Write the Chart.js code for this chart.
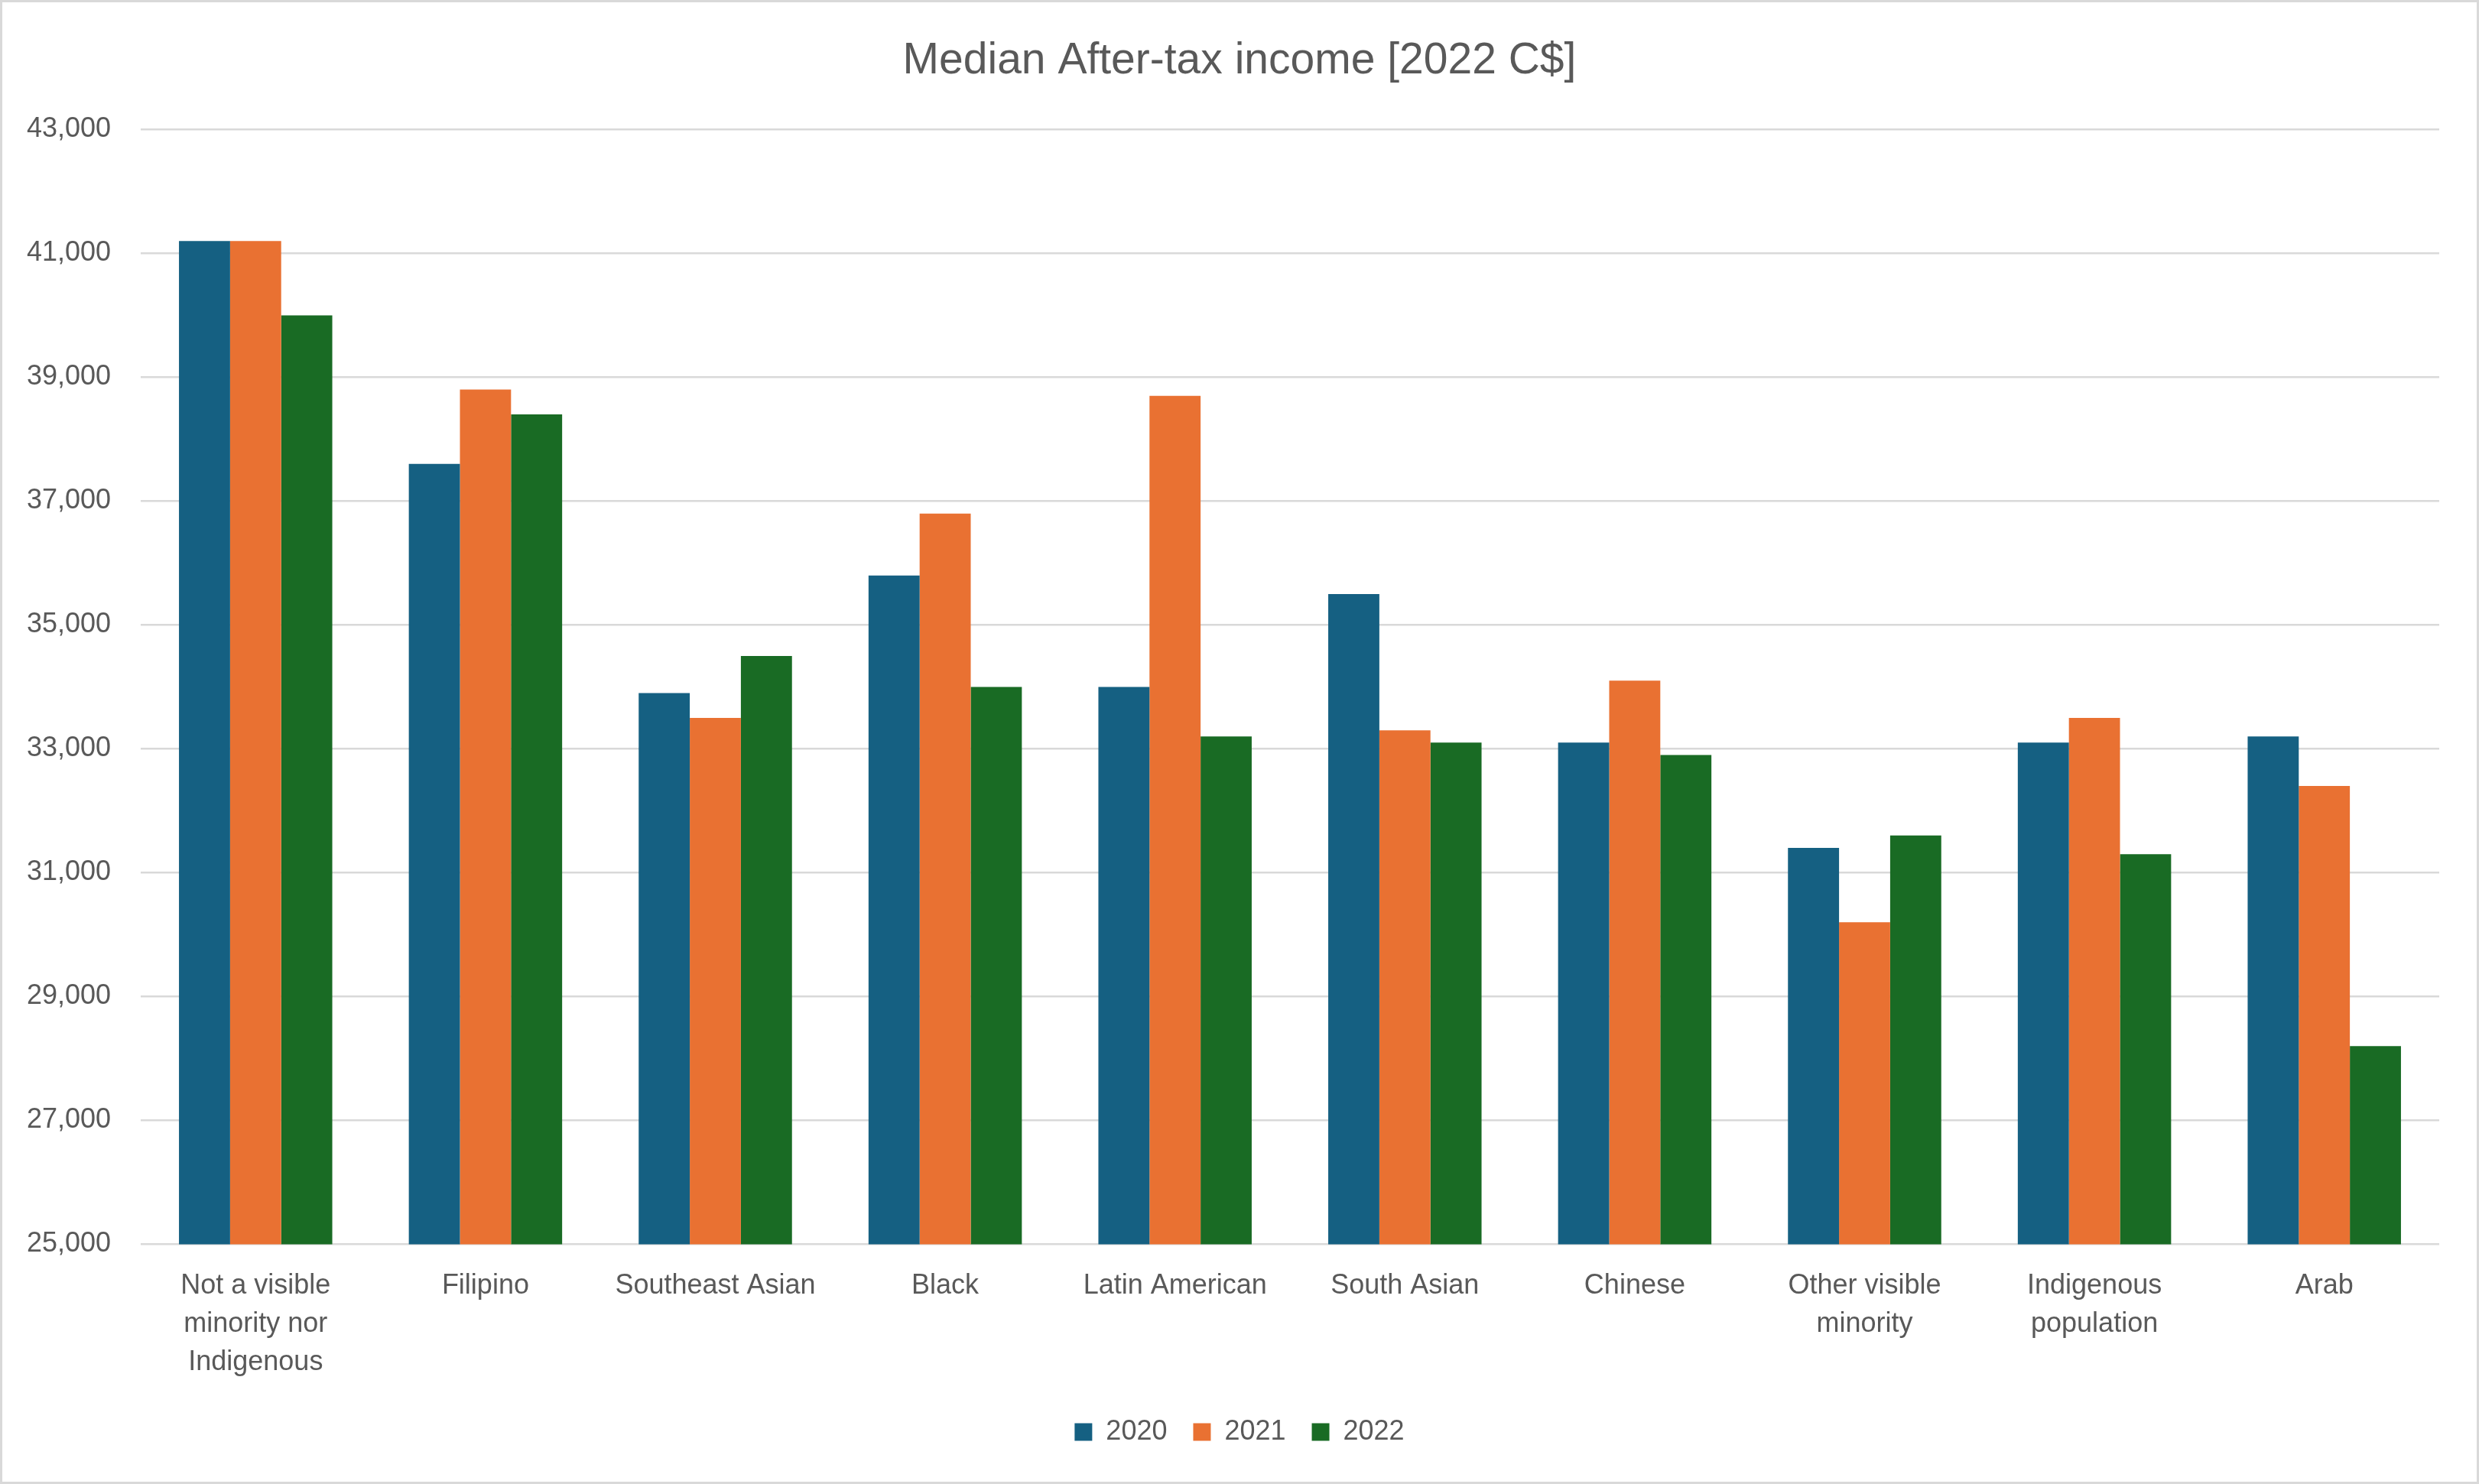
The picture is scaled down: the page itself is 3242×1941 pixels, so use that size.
<!DOCTYPE html>
<html>
<head>
<meta charset="utf-8">
<script src="https://cdn.jsdelivr.net/npm/chart.js@4.4.0/dist/chart.umd.min.js"></script>
<style>
  html, body { margin: 0; padding: 0; background: #ffffff; }
  #wrap { width: 3242px; height: 1941px; position: relative; }
  canvas { display: block; }
</style>
</head>
<body>
<div id="wrap"><canvas id="c" width="3242" height="1941"></canvas></div>
<script>
const chartTitle = "Median After-tax income [2022 C$]";
const categories = [
  ["Not a visible", "minority nor", "Indigenous"],
  "Filipino",
  "Southeast Asian",
  "Black",
  "Latin American",
  "South Asian",
  "Chinese",
  ["Other visible", "minority"],
  ["Indigenous", "population"],
  "Arab"
];
const seriesNames = ["2020", "2021", "2022"];
const values2020 = [41200, 37600, 33900, 35800, 34000, 35500, 33100, 31400, 33100, 33200];
const values2021 = [41200, 38800, 33500, 36800, 38700, 33300, 34100, 30200, 33500, 32400];
const values2022 = [40000, 38400, 34500, 34000, 33200, 33100, 32900, 31600, 31300, 28200];
const seriesColors = ["#156082", "#E97132", "#196B24"];
const yMin = 25000, yMax = 43000, yStep = 2000;

const FONT = "'Liberation Sans', Arial, sans-serif";
const TEXT = "#595959";

const borderPlugin = {
  id: 'outerBorder',
  afterDraw(chart) {
    const ctx = chart.ctx;
    ctx.save();
    ctx.strokeStyle = '#d9d9d9';
    ctx.lineWidth = 3;
    ctx.strokeRect(1.5, 1.5, chart.width - 3, chart.height - 3);
    ctx.restore();
  }
};

const seriesValues = [values2020, values2021, values2022];

new Chart(document.getElementById('c'), {
  type: 'bar',
  data: {
    labels: categories,
    datasets: seriesNames.map((name, i) => ({
      label: name,
      data: seriesValues[i],
      backgroundColor: seriesColors[i],
      borderWidth: 0,
      categoryPercentage: 0.667,
      barPercentage: 1.0
    }))
  },
  options: {
    responsive: false,
    devicePixelRatio: 1,
    animation: false,
    layout: { padding: { left: 0, right: 0, top: 0, bottom: 40 } },
    plugins: {
      title: {
        display: true,
        text: chartTitle,
        color: TEXT,
        font: { family: FONT, size: 57, weight: 'normal', lineHeight: 1.2 },
        padding: { top: 46, bottom: 55 }
      },
      legend: {
        position: 'bottom',
        labels: {
          color: TEXT,
          font: { family: FONT, size: 36 },
          boxWidth: 23,
          boxHeight: 23,
          padding: 34
        }
      },
      tooltip: { enabled: false }
    },
    scales: {
      x: {
        grid: { display: false },
        border: { display: false },
        ticks: {
          color: TEXT,
          font: { family: FONT, size: 36, lineHeight: 1.38 },
          padding: 22,
          maxRotation: 0,
          autoSkip: false
        },
        afterFit(scale) { scale.height = 193.5; }
      },
      y: {
        min: yMin,
        max: yMax,
        grid: { color: '#d9d9d9', lineWidth: 2.5, drawTicks: false },
        border: { display: false },
        ticks: {
          stepSize: yStep,
          color: TEXT,
          font: { family: FONT, size: 36 },
          padding: 39,
          callback: (v) => v.toLocaleString('en-US')
        },
        afterFit(scale) { scale.width = 184; }
      },
      yRight: {
        position: 'right',
        min: yMin,
        max: yMax,
        grid: { display: false, drawTicks: false },
        border: { display: false },
        ticks: { display: false },
        afterFit(scale) { scale.width = 52; }
      }
    }
  },
  plugins: [borderPlugin]
});
</script>
</body>
</html>
